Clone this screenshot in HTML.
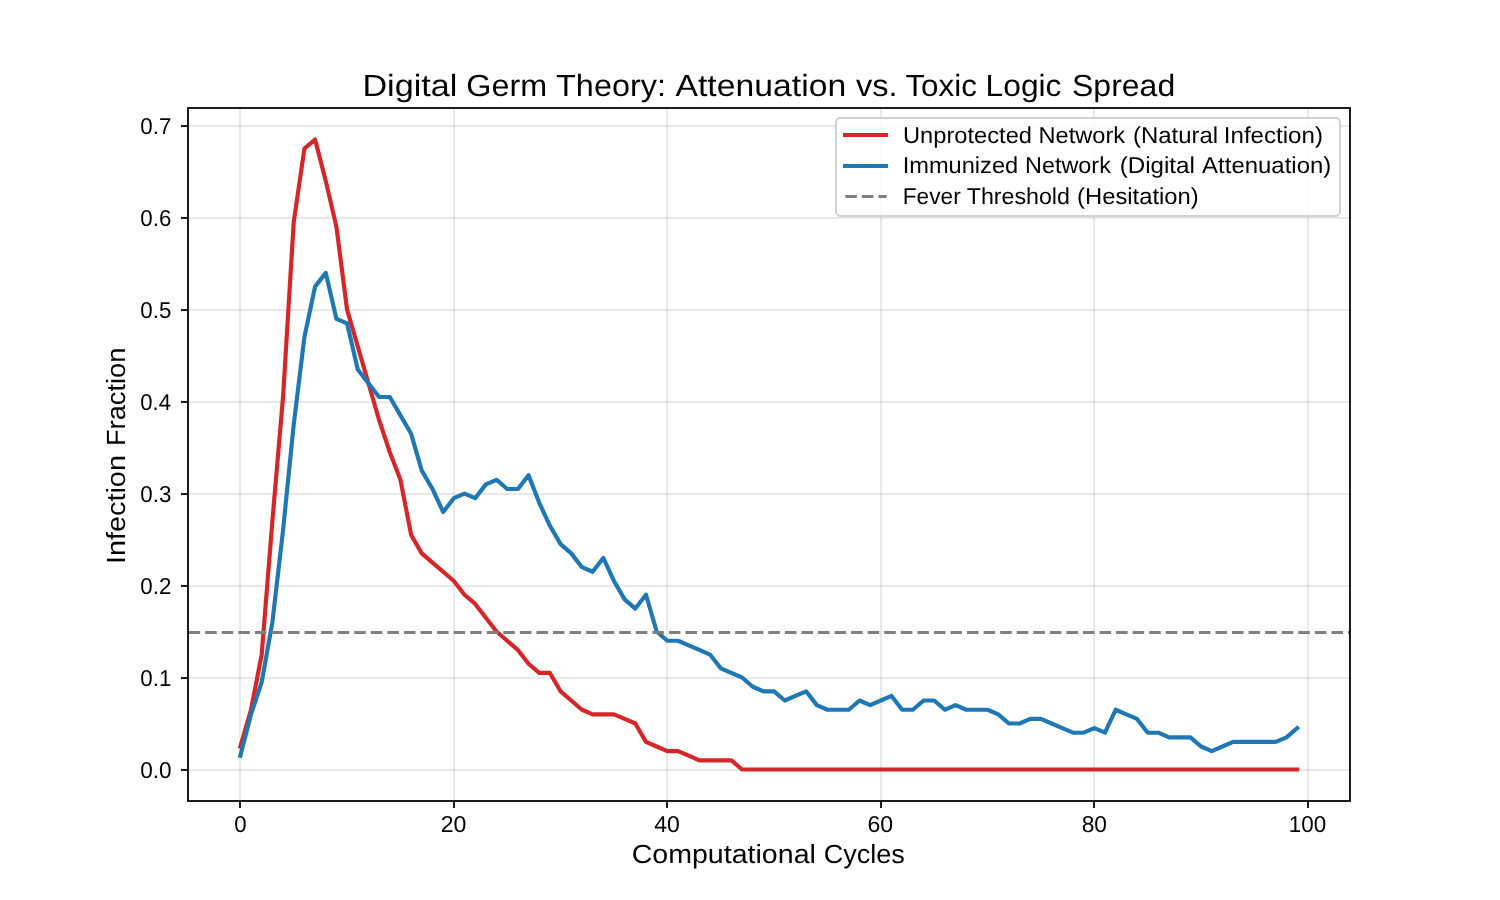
<!DOCTYPE html>
<html><head><meta charset="utf-8"><title>chart</title>
<style>
html,body{margin:0;padding:0;background:#fff;}
svg{display:block;}
text{font-family:"Liberation Sans",sans-serif;fill:#000;text-rendering:geometricPrecision;}
</style></head><body>
<svg width="1500" height="900" viewBox="0 0 1500 900">
<rect width="1500" height="900" fill="#fff"/>
<g stroke="#b0b0b0" stroke-opacity="0.28" stroke-width="2" fill="none"><line x1="240" x2="240" y1="108.0" y2="801.0"/><line x1="454" x2="454" y1="108.0" y2="801.0"/><line x1="667" x2="667" y1="108.0" y2="801.0"/><line x1="881" x2="881" y1="108.0" y2="801.0"/><line x1="1094" x2="1094" y1="108.0" y2="801.0"/><line x1="1308" x2="1308" y1="108.0" y2="801.0"/><line x1="187.5" x2="1350.0" y1="770" y2="770"/><line x1="187.5" x2="1350.0" y1="678" y2="678"/><line x1="187.5" x2="1350.0" y1="586" y2="586"/><line x1="187.5" x2="1350.0" y1="494" y2="494"/><line x1="187.5" x2="1350.0" y1="402" y2="402"/><line x1="187.5" x2="1350.0" y1="310" y2="310"/><line x1="187.5" x2="1350.0" y1="218" y2="218"/><line x1="187.5" x2="1350.0" y1="126" y2="126"/></g>
<clipPath id="c"><rect x="187.5" y="108.0" width="1162.5" height="693.0"/></clipPath>
<g clip-path="url(#c)" fill="none" stroke-linejoin="round">
<path d="M240.34 746.51 L251.02 709.72 L261.69 654.54 L272.37 521.18 L283.04 397.02 L293.72 222.27 L304.39 148.70 L315.07 139.50 L325.74 180.89 L336.42 226.87 L347.09 309.65 L357.77 346.43 L368.44 383.22 L379.12 420.01 L389.79 452.20 L400.46 479.79 L411.14 534.97 L421.81 553.37 L432.49 562.57 L443.16 571.76 L453.84 580.96 L464.51 594.76 L475.19 603.95 L485.86 617.75 L496.54 631.54 L507.21 640.74 L517.89 649.94 L528.56 663.73 L539.24 672.93 L549.91 672.93 L560.59 691.32 L571.26 700.52 L581.94 709.72 L592.61 714.32 L603.29 714.32 L613.96 714.32 L624.64 718.92 L635.31 723.51 L645.99 741.91 L656.66 746.51 L667.34 751.11 L678.01 751.11 L688.69 755.70 L699.36 760.30 L710.04 760.30 L720.71 760.30 L731.39 760.30 L742.06 769.50 L752.74 769.50 L763.41 769.50 L774.09 769.50 L784.76 769.50 L795.44 769.50 L806.11 769.50 L816.79 769.50 L827.46 769.50 L838.14 769.50 L848.81 769.50 L859.49 769.50 L870.16 769.50 L880.84 769.50 L891.51 769.50 L902.19 769.50 L912.86 769.50 L923.54 769.50 L934.21 769.50 L944.89 769.50 L955.56 769.50 L966.24 769.50 L976.91 769.50 L987.59 769.50 L998.26 769.50 L1008.94 769.50 L1019.61 769.50 L1030.29 769.50 L1040.96 769.50 L1051.64 769.50 L1062.31 769.50 L1072.99 769.50 L1083.66 769.50 L1094.34 769.50 L1105.01 769.50 L1115.69 769.50 L1126.36 769.50 L1137.04 769.50 L1147.71 769.50 L1158.38 769.50 L1169.06 769.50 L1179.73 769.50 L1190.41 769.50 L1201.08 769.50 L1211.76 769.50 L1222.43 769.50 L1233.11 769.50 L1243.78 769.50 L1254.46 769.50 L1265.13 769.50 L1275.81 769.50 L1286.48 769.50 L1297.16 769.50" stroke="#d62728" stroke-width="4.17" stroke-linecap="square"/>
<path d="M240.34 755.70 L251.02 714.32 L261.69 682.13 L272.37 622.35 L283.04 530.38 L293.72 424.61 L304.39 337.24 L315.07 286.65 L325.74 272.86 L336.42 318.84 L347.09 323.44 L357.77 369.43 L368.44 383.22 L379.12 397.02 L389.79 397.02 L400.46 415.41 L411.14 433.81 L421.81 470.59 L432.49 488.99 L443.16 511.98 L453.84 498.19 L464.51 493.59 L475.19 498.19 L485.86 484.39 L496.54 479.79 L507.21 488.99 L517.89 488.99 L528.56 475.19 L539.24 502.78 L549.91 525.78 L560.59 544.17 L571.26 553.37 L581.94 567.16 L592.61 571.76 L603.29 557.97 L613.96 580.96 L624.64 599.35 L635.31 608.55 L645.99 594.76 L656.66 631.54 L667.34 640.74 L678.01 640.74 L688.69 645.34 L699.36 649.94 L710.04 654.54 L720.71 668.33 L731.39 672.93 L742.06 677.53 L752.74 686.73 L763.41 691.32 L774.09 691.32 L784.76 700.52 L795.44 695.92 L806.11 691.32 L816.79 705.12 L827.46 709.72 L838.14 709.72 L848.81 709.72 L859.49 700.52 L870.16 705.12 L880.84 700.52 L891.51 695.92 L902.19 709.72 L912.86 709.72 L923.54 700.52 L934.21 700.52 L944.89 709.72 L955.56 705.12 L966.24 709.72 L976.91 709.72 L987.59 709.72 L998.26 714.32 L1008.94 723.51 L1019.61 723.51 L1030.29 718.92 L1040.96 718.92 L1051.64 723.51 L1062.31 728.11 L1072.99 732.71 L1083.66 732.71 L1094.34 728.11 L1105.01 732.71 L1115.69 709.72 L1126.36 714.32 L1137.04 718.92 L1147.71 732.71 L1158.38 732.71 L1169.06 737.31 L1179.73 737.31 L1190.41 737.31 L1201.08 746.51 L1211.76 751.11 L1222.43 746.51 L1233.11 741.91 L1243.78 741.91 L1254.46 741.91 L1265.13 741.91 L1275.81 741.91 L1286.48 737.31 L1297.16 728.11" stroke="#1f77b4" stroke-width="4.17" stroke-linecap="square"/>
<line x1="188.6" x2="1350.0" y1="632.50" y2="632.50" stroke="#808080" stroke-width="3.125" stroke-dasharray="11.5625 5"/>
</g>
<g stroke="#111" stroke-width="1.9"><line x1="240" x2="240" y1="801.0" y2="808.0"/><line x1="454" x2="454" y1="801.0" y2="808.0"/><line x1="667" x2="667" y1="801.0" y2="808.0"/><line x1="881" x2="881" y1="801.0" y2="808.0"/><line x1="1094" x2="1094" y1="801.0" y2="808.0"/><line x1="1308" x2="1308" y1="801.0" y2="808.0"/><line x1="181.0" x2="188.0" y1="770" y2="770"/><line x1="181.0" x2="188.0" y1="678" y2="678"/><line x1="181.0" x2="188.0" y1="586" y2="586"/><line x1="181.0" x2="188.0" y1="494" y2="494"/><line x1="181.0" x2="188.0" y1="402" y2="402"/><line x1="181.0" x2="188.0" y1="310" y2="310"/><line x1="181.0" x2="188.0" y1="218" y2="218"/><line x1="181.0" x2="188.0" y1="126" y2="126"/></g>
<rect x="188" y="108" width="1162" height="693" fill="none" stroke="#111" stroke-width="1.9"/>
<rect x="836" y="118" width="504" height="98" rx="4.2" ry="4.2" fill="#fff" fill-opacity="0.8" stroke="#cccccc" stroke-opacity="0.9" stroke-width="2"/>
<line x1="845.1" x2="885.9" y1="135.0" y2="135.0" stroke="#d62728" stroke-width="4.17" stroke-linecap="square"/>
<line x1="845.1" x2="885.9" y1="166.0" y2="166.0" stroke="#1f77b4" stroke-width="4.17" stroke-linecap="square"/>
<line x1="845.3" x2="886.6" y1="196.5" y2="196.5" stroke="#808080" stroke-width="3.125" stroke-dasharray="11.56 5"/>
<g opacity="0.999">
<text transform="translate(362.43,96.00) scale(1.1175,1)" font-size="30.6">Digital</text>
<text transform="translate(466.29,96.00) scale(1.0560,1)" font-size="30.6">Germ</text>
<text transform="translate(556.09,96.00) scale(1.0587,1)" font-size="30.6">Theory:</text>
<text transform="translate(675.50,96.00) scale(1.1025,1)" font-size="30.6">Attenuation</text>
<text transform="translate(856.00,96.00) scale(1.0650,1)" font-size="30.6">vs.</text>
<text transform="translate(905.41,96.00) scale(1.0253,1)" font-size="30.6">Toxic</text>
<text transform="translate(985.62,96.00) scale(1.0372,1)" font-size="30.6">Logic</text>
<text transform="translate(1072.00,96.00) scale(1.0458,1)" font-size="30.6">Spread</text>
<text transform="translate(631.66,862.80) scale(1.0863,1)" font-size="26.3">Computational</text>
<text transform="translate(823.73,862.80) scale(1.0279,1)" font-size="26.3">Cycles</text>
<text transform="translate(125.20,564.05) rotate(-90) scale(1.0961,1)" font-size="26.3">Infection</text>
<text transform="translate(125.20,446.03) rotate(-90) scale(1.0364,1)" font-size="26.3">Fraction</text>
<text transform="translate(234.31,832.00) scale(0.9652,1)" font-size="23.0">0</text>
<text transform="translate(440.72,832.00) scale(1.0028,1)" font-size="23.0">20</text>
<text transform="translate(654.24,832.00) scale(0.9979,1)" font-size="23.0">40</text>
<text transform="translate(867.52,832.00) scale(1.0028,1)" font-size="23.0">60</text>
<text transform="translate(1081.69,832.00) scale(0.9880,1)" font-size="23.0">80</text>
<text transform="translate(1288.80,832.00) scale(0.9735,1)" font-size="23.0">100</text>
<text transform="translate(140.29,778.00) scale(0.9810,1)" font-size="23.0">0.0</text>
<text transform="translate(140.30,686.00) scale(0.9696,1)" font-size="23.0">0.1</text>
<text transform="translate(140.30,594.00) scale(0.9696,1)" font-size="23.0">0.2</text>
<text transform="translate(140.30,502.00) scale(0.9696,1)" font-size="23.0">0.3</text>
<text transform="translate(140.31,410.00) scale(0.9582,1)" font-size="23.0">0.4</text>
<text transform="translate(140.30,318.00) scale(0.9696,1)" font-size="23.0">0.5</text>
<text transform="translate(140.30,226.00) scale(0.9696,1)" font-size="23.0">0.6</text>
<text transform="translate(140.30,134.00) scale(0.9696,1)" font-size="23.0">0.7</text>
<text transform="translate(903.02,142.80) scale(1.0296,1)" font-size="23.0">Unprotected</text>
<text transform="translate(1038.56,142.80) scale(1.0252,1)" font-size="23.0">Network</text>
<text transform="translate(1133.08,142.80) scale(1.0390,1)" font-size="23.0">(Natural</text>
<text transform="translate(1223.82,142.80) scale(1.0478,1)" font-size="23.0">Infection)</text>
<text transform="translate(902.65,173.40) scale(1.0275,1)" font-size="23.0">Immunized</text>
<text transform="translate(1025.07,173.40) scale(1.0167,1)" font-size="23.0">Network</text>
<text transform="translate(1119.67,173.40) scale(1.0496,1)" font-size="23.0">(Digital</text>
<text transform="translate(1202.10,173.40) scale(1.0412,1)" font-size="23.0">Attenuation)</text>
<text transform="translate(902.73,204.00) scale(0.9862,1)" font-size="23.0">Fever</text>
<text transform="translate(966.74,204.00) scale(1.0087,1)" font-size="23.0">Threshold</text>
<text transform="translate(1077.08,204.00) scale(1.0345,1)" font-size="23.0">(Hesitation)</text>
</g>
</svg></body></html>
